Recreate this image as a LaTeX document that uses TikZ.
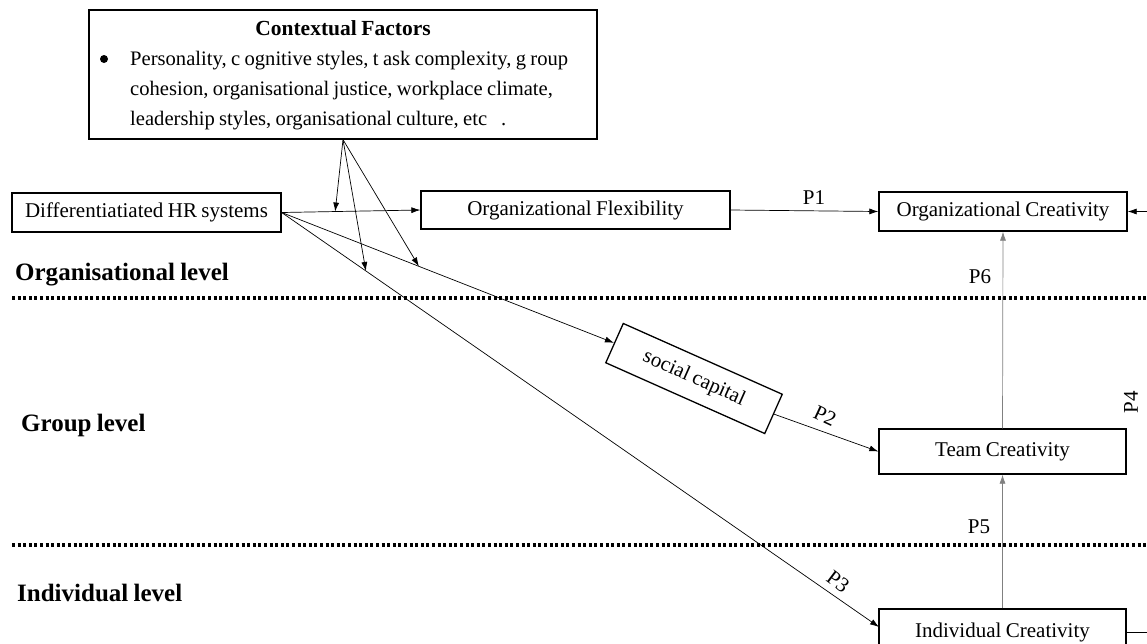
\documentclass[tikz,border=0pt]{standalone}
\usepackage{fontspec}
\setmainfont{Liberation Serif}[WordSpace=0.85]
\usetikzlibrary{arrows.meta,calc}
\tikzset{
  box/.style={draw, line width=1.3pt, inner sep=0pt, align=center, font=\fontsize{21}{24}\selectfont},
  conn/.style={line width=0.7pt, -{Latex[length=9pt,width=6pt]}},
  vconn/.style={conn, draw=gray},
  lvl/.style={anchor=west, inner sep=0pt, font=\fontsize{25}{28}\selectfont\bfseries},
  plabel/.style={inner sep=0pt, font=\fontsize{21}{24}\selectfont},
  ctxtext/.style={anchor=base west, inner sep=0pt, font=\fontsize{20.6}{24}\selectfont},
  levelline/.style={line width=3.2pt, dash pattern=on 3pt off 2.6pt}
}
\begin{document}
\begin{tikzpicture}[x=1pt,y=-1pt]
\useasboundingbox (0,0) rectangle (1147,643);
\clip (0,0) rectangle (1147,643);
\fill[white] (0,0) rectangle (1147,643);

% contextual factors box
\node[box, minimum width=508pt, minimum height=129pt] (ctx) at (343,74.5) {};
\node[inner sep=0pt, font=\fontsize{21.5}{24}\selectfont\bfseries] (ctxtitle) at (343,28) {Contextual Factors};
\fill (104,59) circle (4);
\node[ctxtext] (ctx1) at (130,65) {Personality, c ognitive styles, t ask complexity, g roup};
\node[ctxtext] (ctx2) at (130,95) {cohesion, organisational justice, workplace climate,};
\node[ctxtext] (ctx3) at (130,125) {leadership styles, organisational culture, etc\hspace{14pt}.};

% main boxes
\node[box, minimum width=269pt, minimum height=39pt] (hr) at (146.5,212.5) {Differentiatiated HR systems};
\node[box, minimum width=309pt, minimum height=38pt] (flex) at (575.5,210) {Organizational Flexibility};
\node[box, minimum width=248pt, minimum height=39pt] (orgc) at (1003,211.5) {Organizational Creativity};
\node[box, minimum width=247pt, minimum height=45pt] (team) at (1002.5,451.5) {Team Creativity};
\node[box, minimum width=247pt, minimum height=46pt] (indiv) at (1002.5,632) {Individual Creativity};
\node[box, minimum width=174pt, minimum height=43pt, rotate=-24] (soc) at (694,378.5) {social capital};

% level separators and labels
\draw[levelline] (12,298) -- (1147,298);
\draw[levelline] (12,545) -- (1147,545);
\node[lvl] (lorg) at (15,275) {Organisational level};
\node[lvl] (lgrp) at (21,425) {Group level};
\node[lvl] (lind) at (17,593) {Individual level};

% connectors
\coordinate (indin) at (879,627);
\draw[conn] (hr.east) -- (flex.west);
\draw[conn] (hr.east) -- (soc.west);
\draw[conn] (hr.east) -- (indin);
\draw[conn] (flex.east) -- (orgc.west);
\draw[conn] (soc.east) -- (team.west);
\draw[vconn] (team.north) -- (orgc.south);
\draw[vconn] (indiv.north) -- (team.south);
\draw[conn] (indiv.east) -- ++(40,0) |- (orgc.east);

% moderation arrows
\coordinate (m1) at ($(hr.east)!0.386!(flex.west)$);
\coordinate (m2) at ($(hr.east)!0.141!(indin)$);
\coordinate (m3) at ($(hr.east)!0.413!(soc.west)$);
\draw[conn] (ctx.south) -- (m1);
\draw[conn] (ctx.south) -- (m2);
\draw[conn] (ctx.south) -- (m3);

% path labels
\node[plabel] (p1) at (814,198) {P1};
\node[plabel, rotate=-25] (p2) at (825,416) {P2};
\node[plabel, rotate=-37] (p3) at (838,582) {P3};
\node[plabel, rotate=90] (p4) at (1131,402) {P4};
\node[plabel] (p5) at (979,527) {P5};
\node[plabel] (p6) at (980,277) {P6};
\end{tikzpicture}
\end{document}
